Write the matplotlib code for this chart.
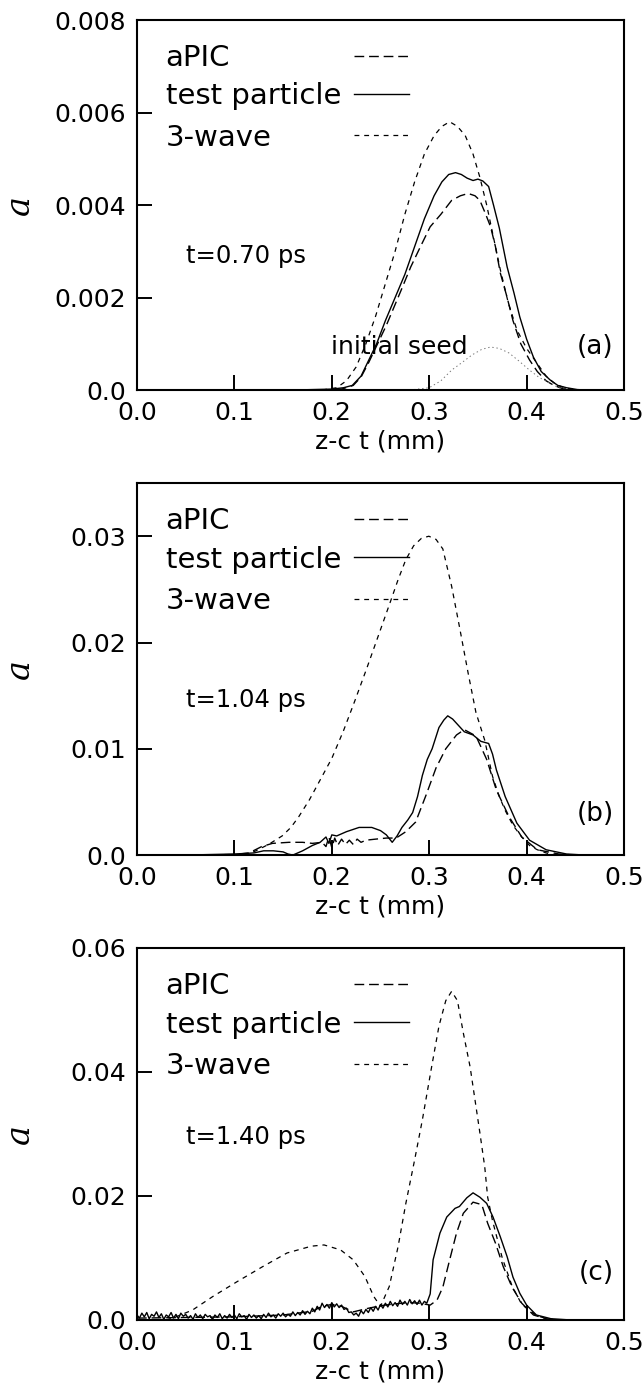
import matplotlib
matplotlib.use('Agg')
import matplotlib.pyplot as plt

##############
### data ###
##############

x_ticks = [0.0, 0.1, 0.2, 0.3, 0.4, 0.5]
x_ticklabels = ['0.0', '0.1', '0.2', '0.3', '0.4', '0.5']

# panel (a), t=0.70 ps
a_yticks = [0.0, 0.002, 0.004, 0.006, 0.008]
a_yticklabels = ['0.0', '0.002', '0.004', '0.006', '0.008']

a_apic_x = [0.19, 0.21, 0.222, 0.23, 0.238, 0.247, 0.256, 0.264, 0.272, 0.281, 0.291, 0.301,
            0.312, 0.323, 0.332, 0.340, 0.347, 0.352, 0.358, 0.363, 0.368, 0.373, 0.38, 0.386,
            0.394, 0.403, 0.411, 0.420, 0.428, 0.437, 0.45]
a_apic_y = [0.0, 0.00002, 0.0001, 0.00028, 0.0006, 0.001, 0.0014, 0.0018, 0.0022, 0.00266,
            0.0031, 0.00353, 0.0038, 0.0041, 0.0042, 0.00425, 0.0042, 0.0041, 0.0038, 0.00353,
            0.0031, 0.00253, 0.002, 0.0015, 0.001, 0.00065, 0.0004, 0.0002, 0.0001, 0.00003, 0.0]

a_tp_x = [0.16, 0.18, 0.2, 0.212, 0.221, 0.23, 0.238, 0.246, 0.255, 0.265, 0.275, 0.285, 0.295,
          0.305, 0.313, 0.320, 0.327, 0.333, 0.339, 0.345, 0.35, 0.355, 0.361, 0.366, 0.372,
          0.38, 0.387, 0.393, 0.40, 0.407, 0.415, 0.424, 0.432, 0.441, 0.452, 0.462]
a_tp_y = [0.0, 0.00001, 0.00002, 0.00005, 0.0001, 0.0003, 0.00065, 0.001, 0.0015, 0.002, 0.0025,
          0.0031, 0.0037, 0.0042, 0.0045, 0.00466, 0.0047, 0.00466, 0.00458, 0.00453, 0.00456,
          0.00452, 0.0044, 0.0040, 0.0035, 0.00266, 0.0021, 0.00158, 0.0011, 0.00071, 0.0004,
          0.00022, 0.0001, 0.00005, 0.00001, 0.0]

a_3w_x = [0.19, 0.205, 0.215, 0.225, 0.235, 0.245, 0.255, 0.265, 0.275, 0.285, 0.295, 0.305,
          0.313, 0.321, 0.329, 0.337, 0.345, 0.352, 0.359, 0.366, 0.373, 0.381, 0.39, 0.40,
          0.41, 0.42, 0.43, 0.44, 0.455]
a_3w_y = [0.0, 0.00005, 0.0002, 0.0005, 0.001, 0.0016, 0.0023, 0.0030, 0.0038, 0.0045, 0.0051,
          0.0055, 0.0057, 0.0058, 0.0057, 0.0055, 0.0051, 0.0046, 0.0040, 0.0033, 0.0026, 0.0019,
          0.0013, 0.0009, 0.0006, 0.0003, 0.00012, 0.00004, 0.0]

a_seed_x = [0.28, 0.3, 0.312, 0.323, 0.334, 0.344, 0.354, 0.363, 0.372, 0.382, 0.392, 0.403,
            0.413, 0.424, 0.432, 0.441]
a_seed_y = [0.0, 0.00005, 0.0002, 0.00043, 0.0006, 0.00076, 0.00088, 0.00093, 0.0009, 0.0008,
            0.00063, 0.00043, 0.00027, 0.00015, 0.00006, 0.0]

# panel (b), t=1.04 ps
b_yticks = [0.0, 0.01, 0.02, 0.03]
b_yticklabels = ['0.0', '0.01', '0.02', '0.03']

b_apic_x = [0.0, 0.05, 0.1, 0.115, 0.128, 0.139, 0.156, 0.17, 0.18, 0.19, 0.194, 0.197, 0.2,
            0.203, 0.206, 0.21, 0.214, 0.218, 0.222, 0.226, 0.23, 0.235, 0.245, 0.256, 0.266,
            0.276, 0.286, 0.297, 0.307, 0.317, 0.328, 0.336, 0.348, 0.359, 0.369, 0.382, 0.395,
            0.411, 0.433, 0.45]
b_apic_y = [0.0, 0.0, 0.00005, 0.0002, 0.0008, 0.0011, 0.0012, 0.0012, 0.0011, 0.0012, 0.0008,
            0.0017, 0.0007, 0.0016, 0.0009, 0.0015, 0.0010, 0.0014, 0.0010, 0.0015, 0.0012,
            0.0014, 0.0015, 0.0016, 0.0016, 0.0022, 0.0031, 0.0057, 0.0082, 0.0100, 0.0113,
            0.0118, 0.0112, 0.0090, 0.0061, 0.0036, 0.0017, 0.0005, 0.0001, 0.0]

b_tp_x = [0.0, 0.05, 0.1, 0.12, 0.13, 0.14, 0.15, 0.155, 0.16, 0.17, 0.18, 0.188, 0.194, 0.197,
          0.2, 0.205, 0.215, 0.228, 0.241, 0.25, 0.256, 0.262, 0.267, 0.272, 0.278, 0.283,
          0.288, 0.293, 0.298, 0.303, 0.31, 0.315, 0.319, 0.324, 0.328, 0.336, 0.345, 0.353,
          0.361, 0.365, 0.369, 0.378, 0.39, 0.403, 0.42, 0.441, 0.46]
b_tp_y = [0.0, 0.0, 0.0001, 0.0002, 0.0004, 0.0004, 0.0003, 0.0001, 0.0, 0.0004, 0.0009, 0.0012,
          0.0017, 0.0011, 0.0019, 0.0018, 0.0022, 0.0026, 0.0026, 0.0023, 0.0019, 0.0012, 0.0018,
          0.0026, 0.0033, 0.0040, 0.0055, 0.0075, 0.0090, 0.0100, 0.0120, 0.0127, 0.0131,
          0.0128, 0.0124, 0.0116, 0.0113, 0.0107, 0.0105, 0.0095, 0.0080, 0.0055, 0.0030,
          0.0014, 0.0005, 0.0001, 0.0]

b_3w_x = [0.0, 0.05, 0.1, 0.115, 0.122, 0.135, 0.149, 0.158, 0.166, 0.177, 0.19, 0.2, 0.212,
          0.224, 0.236, 0.248, 0.26, 0.268, 0.276, 0.284, 0.292, 0.2996, 0.307, 0.314, 0.323,
          0.331, 0.34, 0.348, 0.357, 0.365, 0.372, 0.378, 0.386, 0.395, 0.403, 0.411, 0.42, 0.43]
b_3w_y = [0.0, 0.0, 0.00005, 0.0001, 0.0004, 0.001, 0.0018, 0.0026, 0.0036, 0.0052, 0.0074,
          0.0091, 0.0117, 0.0146, 0.0176, 0.0207, 0.0238, 0.0259, 0.0278, 0.0291, 0.0298,
          0.0300, 0.0297, 0.0288, 0.0253, 0.0215, 0.0171, 0.0134, 0.0108, 0.0074, 0.0055,
          0.0042, 0.0028, 0.0017, 0.0009, 0.0005, 0.0002, 0.0]

# panel (c), t=1.40 ps
c_yticks = [0.0, 0.02, 0.04, 0.06]
c_yticklabels = ['0.0', '0.02', '0.04', '0.06']

c_apic_x = [0.0, 0.05, 0.1, 0.15, 0.18, 0.19, 0.2, 0.21, 0.222, 0.235, 0.25, 0.265, 0.28, 0.29,
            0.301, 0.308, 0.314, 0.321, 0.328, 0.335, 0.345, 0.354, 0.36, 0.368, 0.376, 0.385,
            0.395, 0.407, 0.42, 0.432]
c_apic_y = [0.0003, 0.0004, 0.0005, 0.0008, 0.0014, 0.0022, 0.0025, 0.0022, 0.0013, 0.0018,
            0.0023, 0.0026, 0.0028, 0.0027, 0.0024, 0.0032, 0.0053, 0.0097, 0.014, 0.0172,
            0.019, 0.0186, 0.0156, 0.0124, 0.0086, 0.0053, 0.0027, 0.0008, 0.0002, 0.0]

# test particle in (c): noisy floor read every 0.0025 mm, then the main pulse
c_tp_x = [0.0, 0.0025, 0.005, 0.0075, 0.01, 0.0125, 0.015, 0.0175, 0.02, 0.0225,
          0.025, 0.0275, 0.03, 0.0325, 0.035, 0.0375, 0.04, 0.0425, 0.045, 0.0475,
          0.05, 0.0525, 0.055, 0.0575, 0.06, 0.0625, 0.065, 0.0675, 0.07, 0.0725,
          0.075, 0.0775, 0.08, 0.0825, 0.085, 0.0875, 0.09, 0.0925, 0.095, 0.0975,
          0.1, 0.1025, 0.105, 0.1075, 0.11, 0.1125, 0.115, 0.1175, 0.12, 0.1225,
          0.125, 0.1275, 0.13, 0.1325, 0.135, 0.1375, 0.14, 0.1425, 0.145, 0.1475,
          0.15, 0.1525, 0.155, 0.1575, 0.16, 0.1625, 0.165, 0.1675, 0.17, 0.1725,
          0.175, 0.1775, 0.18, 0.1825, 0.185, 0.1875, 0.19, 0.1925, 0.195, 0.1975,
          0.2, 0.2025, 0.205, 0.2075, 0.21, 0.2125, 0.215, 0.2175, 0.22, 0.2225,
          0.225, 0.2275, 0.23, 0.2325, 0.235, 0.2375, 0.24, 0.2425, 0.245, 0.2475,
          0.25, 0.2525, 0.255, 0.2575, 0.26, 0.2625, 0.265, 0.2675, 0.27, 0.2725,
          0.275, 0.2775, 0.28, 0.2825, 0.285, 0.2875, 0.29, 0.2925, 0.295, 0.2975,
          0.301, 0.304, 0.311, 0.318, 0.3265, 0.331, 0.3386, 0.345, 0.352, 0.359, 0.3655,
          0.373, 0.38, 0.386, 0.393, 0.40, 0.41, 0.425, 0.445]
c_tp_y = [0.0008, 0.0003, 0.0011, 0.0005, 0.0012, 0.0002, 0.0009, 0.0006, 0.0013, 0.0004,
          0.0010, 0.0001, 0.0008, 0.0005, 0.0012, 0.0003, 0.0009, 0.0002, 0.0011, 0.0006,
          0.0009, 0.0003, 0.0007, 0.0001, 0.0010, 0.0004, 0.0008, 0.0002, 0.0009, 0.0005,
          0.0007, 0.0001, 0.0008, 0.0004, 0.0010, 0.0002, 0.0007, 0.0003, 0.0009, 0.0004,
          0.0008, 0.0002, 0.0010, 0.0005, 0.0007, 0.0001, 0.0009, 0.0004, 0.0008, 0.0003,
          0.0007, 0.0002, 0.0009, 0.0004, 0.0011, 0.0005, 0.0008, 0.0003, 0.0010, 0.0006,
          0.0011, 0.0005, 0.0009, 0.0006, 0.0013, 0.0007, 0.0012, 0.0008, 0.0015, 0.0009,
          0.0014, 0.0010, 0.0019, 0.0013, 0.0022, 0.0016, 0.0027, 0.0020, 0.0025, 0.0019,
          0.0028, 0.0021, 0.0026, 0.0020, 0.0024, 0.0017, 0.0019, 0.0012, 0.0013, 0.0008,
          0.0011, 0.0006, 0.0015, 0.0010, 0.0017, 0.0012, 0.0020, 0.0014, 0.0022, 0.0016,
          0.0025, 0.0019, 0.0027, 0.0021, 0.0030, 0.0023, 0.0028, 0.0022, 0.0032, 0.0025,
          0.0030, 0.0024, 0.0033, 0.0026, 0.0031, 0.0025, 0.0032, 0.0024, 0.0030, 0.0027,
          0.0042, 0.0097, 0.0140, 0.0166, 0.0180, 0.0183, 0.0197, 0.0205, 0.0198, 0.0188,
          0.0166, 0.0134, 0.0102, 0.0069, 0.0043, 0.0024, 0.0008, 0.0002, 0.0]

c_3w_x = [0.0, 0.03, 0.04, 0.057, 0.078, 0.103, 0.129, 0.154, 0.179, 0.192, 0.209, 0.222, 0.234,
          0.243, 0.25, 0.259, 0.268, 0.276, 0.285, 0.293, 0.302, 0.31, 0.317, 0.323, 0.329,
          0.335, 0.342, 0.347, 0.352, 0.357, 0.36, 0.365, 0.375, 0.385, 0.395, 0.41, 0.425]
c_3w_y = [0.0, 0.0, 0.0005, 0.0016, 0.0038, 0.0062, 0.0086, 0.0108, 0.0119, 0.0121, 0.0113,
          0.0097, 0.007, 0.0038, 0.0022, 0.0054, 0.0118, 0.0188, 0.0258, 0.0323, 0.0404, 0.0474,
          0.0515, 0.053, 0.0515, 0.0463, 0.0408, 0.0355, 0.0302, 0.0247, 0.0198, 0.016, 0.0100,
          0.0055, 0.0025, 0.0007, 0.0]

legend_labels = ['aPIC', 'test particle', '3-wave']
time_labels = ['t=0.70 ps', 't=1.04 ps', 't=1.40 ps']
panel_labels = ['(a)', '(b)', '(c)']

###############
### styles ###
###############

plt.rcParams['font.family'] = ['DejaVu Sans']
plt.rcParams['lines.scale_dashes'] = False

apic_style = dict(color='black', lw=1.0, ls=(0, (7, 3.5)))
tp_style = dict(color='black', lw=1.0, ls='-')
w3_style = dict(color='black', lw=0.9, ls=(0, (3.5, 3.5)))
seed_style = dict(color='#777777', lw=0.7, ls=(0, (1, 2)))

fig = plt.figure(figsize=(6.42, 13.99), dpi=100)

# [left, bottom, width, height] in figure fraction
positions = [[0.2134, 0.7212, 0.7586, 0.2645],
             [0.2134, 0.3888, 0.7586, 0.2659],
             [0.2134, 0.0565, 0.7586, 0.2659]]

panels = [
    (a_apic_x, a_apic_y, a_tp_x, a_tp_y, a_3w_x, a_3w_y, a_yticks, a_yticklabels, 0.008),
    (b_apic_x, b_apic_y, b_tp_x, b_tp_y, b_3w_x, b_3w_y, b_yticks, b_yticklabels, 0.035),
    (c_apic_x, c_apic_y, c_tp_x, c_tp_y, c_3w_x, c_3w_y, c_yticks, c_yticklabels, 0.06),
]

# text positions (fraction of axes height)
time_y = [0.363, 0.418, 0.493]
panel_y = [0.117, 0.111, 0.125]

for i, (ax_x1, ax_y1, ax_x2, ax_y2, ax_x3, ax_y3, yt, ytl, ymax) in enumerate(panels):
    ax = fig.add_axes(positions[i])
    ax.plot(ax_x1, ax_y1, **apic_style)
    ax.plot(ax_x2, ax_y2, **tp_style)
    ax.plot(ax_x3, ax_y3, **w3_style)
    if i == 0:
        ax.plot(a_seed_x, a_seed_y, **seed_style)
        ax.text(0.1996, 0.00093, 'initial seed', fontsize=18, va='center', ha='left')

    ax.set_xlim(0, 0.5)
    ax.set_ylim(0, ymax)
    ax.set_xticks(x_ticks)
    ax.set_xticklabels(x_ticklabels)
    ax.set_yticks(yt)
    ax.set_yticklabels(ytl)
    ax.tick_params(direction='in', length=11, width=1.4, labelsize=18,
                   top=False, right=False)
    ax.tick_params(axis='y', pad=8)
    ax.tick_params(axis='x', pad=8)
    for s in ax.spines.values():
        s.set_linewidth(1.5)

    ax.set_xlabel('z-c t (mm)', fontsize=18, labelpad=3)
    ax.set_ylabel('a', fontsize=24, family='DejaVu Serif', style='italic', va='center')
    ax.yaxis.set_label_coords(-0.24, 0.5)

    # legend drawn by hand: text left, line sample right
    leg_y = [0.897, 0.794, 0.682]
    styles = [apic_style, tp_style, w3_style]
    for lab, ly, st in zip(legend_labels, leg_y, styles):
        ax.text(0.059, ly, lab, transform=ax.transAxes, fontsize=21, va='center', ha='left')
        ax.plot([0.445, 0.559], [ly + 0.006, ly + 0.006], transform=ax.transAxes, **st)

    ax.text(0.101, time_y[i], time_labels[i], transform=ax.transAxes, fontsize=17.5,
            va='center', ha='left')
    ax.text(0.979, panel_y[i], panel_labels[i], transform=ax.transAxes, fontsize=19,
            va='center', ha='right')

plt.savefig('out.png', dpi=100)
